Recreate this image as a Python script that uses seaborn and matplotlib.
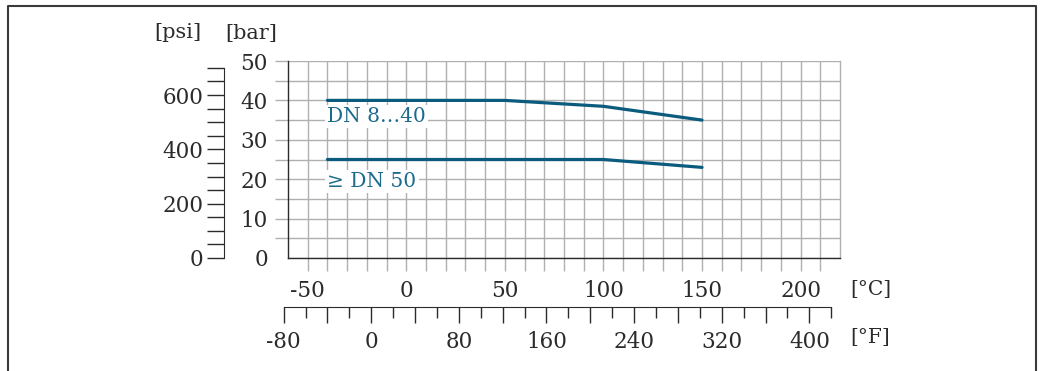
import numpy as np
import pandas as pd
import seaborn as sns
import matplotlib.pyplot as plt
from matplotlib.lines import Line2D
from matplotlib.ticker import FuncFormatter, MultipleLocator, FixedLocator

# pressure / temperature rating curves
temp_c_hi = [-40, 50, 100, 150]
bar_hi = [40, 40, 38.5, 35]
temp_c_lo = [-40, 100, 150]
bar_lo = [25, 25, 23]
series_names = ['DN 8…40', '≥ DN 50']

celsius_ticks = [-50, 0, 50, 100, 150, 200]
bar_ticks = [0, 10, 20, 30, 40, 50]
psi_ticks = [0, 200, 400, 600]
fahr_ticks = [-80, 0, 80, 160, 240, 320, 400]

sns.set_style('white')
plt.rcParams['font.family'] = ['DejaVu Serif', 'DejaVu Sans']
plt.rcParams['font.size'] = 15
plt.rcParams['axes.unicode_minus'] = False

line_col = '#0b5b7e'
text_col = '#1c6b8c'
grid_col = '#b0b0b0'
dark = '#2b2b2b'
fs = 15.5

df = pd.DataFrame({
    'temp': temp_c_hi + temp_c_lo,
    'bar': bar_hi + bar_lo,
    'series': [series_names[0]] * len(temp_c_hi) + [series_names[1]] * len(temp_c_lo),
})

W, H = 1042, 371
fig = plt.figure(figsize=(W / 100, H / 100), dpi=100)
ax_l, ax_r, ax_b, ax_t = 288, 840, 258, 61
ax = fig.add_axes([ax_l / W, 1 - ax_b / H, (ax_r - ax_l) / W, (ax_b - ax_t) / H])

sns.lineplot(data=df, x='temp', y='bar', hue='series', sort=False,
             palette={series_names[0]: line_col, series_names[1]: line_col},
             linewidth=2.3, legend=False, ax=ax, zorder=5)

xmin, xmax = -60, 220
ax.set_xlim(xmin, xmax)
ax.set_ylim(0, 50)
ax.set_xticks(celsius_ticks)
ax.xaxis.set_minor_locator(FixedLocator(np.arange(-50, 211, 10)))
ax.set_yticks(bar_ticks)
ax.yaxis.set_minor_locator(FixedLocator(np.arange(5, 50, 10)))
ax.grid(True, which='both', color=grid_col, linewidth=1)
ax.tick_params(which='both', direction='out', length=9.5, width=1, color=grid_col,
               labelcolor=dark, labelsize=fs, bottom=True, left=True)
ax.tick_params(axis='x', which='major', pad=6)
ax.tick_params(axis='y', which='major', pad=5)
ax.yaxis.get_major_ticks()[0].tick1line.set_visible(False)
ax.set_xlabel('')
ax.set_ylabel('')
ax.spines['top'].set_visible(False)
ax.spines['right'].set_color(grid_col)
ax.spines['right'].set_linewidth(1)
for s in ['left', 'bottom']:
    ax.spines[s].set_color(dark)
    ax.spines[s].set_linewidth(1)
    ax.spines[s].set_zorder(4)

# series labels
ax.text(-40, 36, series_names[0], color=text_col, fontsize=14.5, va='center', ha='left',
        bbox=dict(facecolor='white', edgecolor='none', pad=1.5), zorder=6)
ax.text(-40, 19.3, series_names[1], color=text_col, fontsize=14.5, va='center', ha='left',
        bbox=dict(facecolor='white', edgecolor='none', pad=1.5), zorder=6)

# psi axis
psi = ax.secondary_yaxis(-64 / (ax_r - ax_l), functions=(lambda b: b * 14.5038, lambda p: p / 14.5038))
psi.set_yticks(psi_ticks)
psi.yaxis.set_minor_locator(MultipleLocator(50))
psi.tick_params(which='both', direction='out', length=12, width=1, color=dark,
                labelcolor=dark, labelsize=fs, pad=3, left=True)
psi.spines['left'].set_bounds(0, 700)
psi.spines['left'].set_color(dark)

# fahrenheit axis: own axes, a bit wider than the main one so -80 F fits
c_per_px = (xmax - xmin) / (ax_r - ax_l)
f_l = 276
c2f = lambda c: c * 9 / 5 + 32
axf = fig.add_axes([f_l / W, 1 - 307 / H, (ax_r - f_l) / W, 1 / H])
axf.set_xlim(c2f(xmin - (ax_l - f_l) * c_per_px), c2f(xmax))
axf.patch.set_visible(False)
for s in ['top', 'left', 'right']:
    axf.spines[s].set_visible(False)
axf.set_yticks([])
axf.xaxis.set_major_locator(MultipleLocator(40))
axf.xaxis.set_minor_locator(MultipleLocator(20))
axf.xaxis.set_major_formatter(FuncFormatter(lambda v, p: f'{v:.0f}' if round(v) in fahr_ticks else ''))
axf.tick_params(which='major', direction='out', length=11.5, width=1, color=dark,
                labelcolor=dark, labelsize=fs, pad=5.5, bottom=True)
axf.tick_params(which='minor', direction='out', length=8, width=1, color=dark, bottom=True)
axf.spines['bottom'].set_bounds(-80, 420)
axf.spines['bottom'].set_color(dark)

# unit labels
fig.text(178 / W, 1 - 33 / H, '[psi]', ha='center', va='center', color=dark, fontsize=15)
fig.text(251 / W, 1 - 33 / H, '[bar]', ha='center', va='center', color=dark, fontsize=15)
fig.text(850 / W, 1 - 290 / H, '[°C]', ha='left', va='center', color=dark, fontsize=14.5)
fig.text(850 / W, 1 - 338 / H, '[°F]', ha='left', va='center', color=dark, fontsize=14.5)

# frame around the figure (left, top, right)
fx = [8 / W, 8 / W, 1036 / W, 1036 / W]
fy = [0, 1 - 6 / H, 1 - 6 / H, 0]
fig.add_artist(Line2D(fx, fy, color='#3a3a3a', linewidth=1.5, transform=fig.transFigure))

fig.savefig('out.png', dpi=100)
